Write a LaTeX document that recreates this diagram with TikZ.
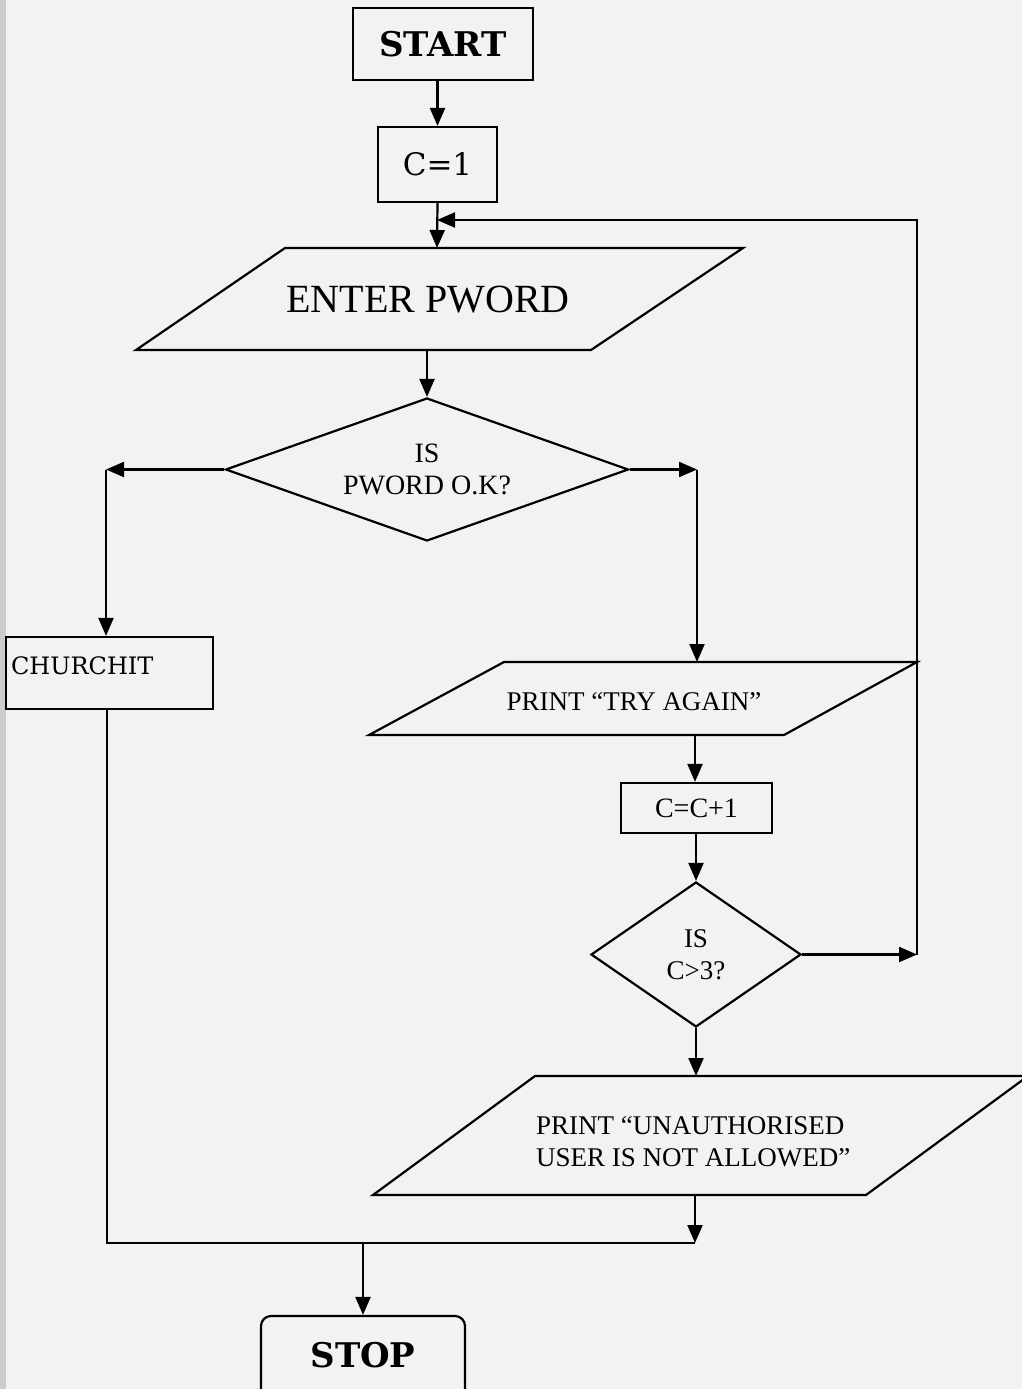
\documentclass[tikz,border=0pt]{standalone}
\usepackage{fontspec}
\setmainfont{Liberation Serif}
\newfontfamily\bk{DejaVu Serif}
\usetikzlibrary{arrows.meta,shapes.geometric}
\begin{document}
\begin{tikzpicture}[x=1pt,y=-1pt,line width=2.2pt,
  arr/.style={-{Triangle[length=18pt,width=15pt]}},
  box/.style={draw,rectangle,inner sep=0pt},
  dec/.style={draw,diamond,inner sep=0pt,align=center},
  txt/.style={inner sep=0pt,align=center}]
\clip (0,0) rectangle (1022,1389);
\useasboundingbox (0,0) rectangle (1022,1389);
\fill[gray!10] (0,0) rectangle (1022,1389);
\fill[gray!40] (0,0) rectangle (6,1389);

% nodes
\node[box,minimum width=180pt,minimum height=72pt,font=\bk\bfseries\fontsize{34}{36}\selectfont] (start) at (443,44) {START};
\node[box,minimum width=119pt,minimum height=75pt,font=\bk\fontsize{31}{34}\selectfont] (c1) at (437.5,164.5) {C=1};

\draw (285,248) -- (743,248) -- (591,350) -- (136,350) -- cycle;
\node[txt,font=\fontsize{40}{42}\selectfont] (ep) at (428,300) {ENTER PWORD};
\coordinate (epin) at (437,248);
\coordinate (epout) at (427,350);

\node[dec,minimum width=403pt,minimum height=143pt,aspect=2.8,font=\fontsize{28}{32}\selectfont] (d1) at (427,469.5) {IS\\PWORD O.K?};
\coordinate (lft) at (106,469.5);
\coordinate (rgt) at (697,469.5);

\node[box,minimum width=207pt,minimum height=72pt] (church) at (109.5,673) {};
\node[txt,anchor=west,font=\bk\fontsize{24}{26}\selectfont] (churcht) at (10,666) {CHURCHIT};

\draw (504,662) -- (917,662) -- (784,735) -- (369,735) -- cycle;
\node[txt,font=\fontsize{27}{30}\selectfont] (try) at (634,702) {PRINT “TRY AGAIN”};
\coordinate (tryin) at (697,662);
\coordinate (tryout) at (695,735);

\node[box,minimum width=151pt,minimum height=50pt,font=\fontsize{28}{30}\selectfont] (cc) at (696.5,808) {C=C+1};

\node[dec,minimum width=210pt,minimum height=145pt,aspect=1.45,font=\fontsize{27}{32}\selectfont] (d2) at (696,954.5) {IS\\C>3?};
\coordinate (lp1) at (917,954.5);
\coordinate (lp2) at (917,220);
\coordinate (lp3) at (437,220);

\draw (535,1076) -- (1028,1076) -- (866,1195) -- (373,1195) -- cycle;
\node[txt,anchor=west,align=left,font=\fontsize{27}{32}\selectfont] (un) at (535,1142) {PRINT “UNAUTHORISED\\USER IS NOT ALLOWED”};
\coordinate (unin) at (696,1076);
\coordinate (unout) at (695,1195);

\coordinate (j1) at (107,1243);
\coordinate (j2) at (695,1243);
\coordinate (j3) at (363,1243);

\node[draw,rectangle,rounded corners=10pt,minimum width=204pt,minimum height=90pt,inner sep=0pt] (stop) at (363,1361) {};
\node[txt,font=\bk\bfseries\fontsize{34}{36}\selectfont] (stopt) at (363,1355) {STOP};

% connectors
\draw[arr] (start.south -| c1.north) -- (c1.north);
\draw[arr] (c1.south) -- (epin);
\draw[arr] (epout) -- (d1.north);
\draw[arr] (d1.west) -- (lft);
\draw[arr] (lft) -- (lft |- church.north);
\draw[arr] (d1.east) -- (rgt);
\draw[arr] (rgt) -- (tryin);
\draw[arr] (tryout) -- (tryout |- cc.north);
\draw[arr] (cc.south -| d2.north) -- (d2.north);
\draw[arr] (d2.east) -- (lp1);
\draw[arr] (lp1) -- (lp2) -- (lp3);
\draw[arr] (d2.south) -- (unin);
\draw[arr] (unout) -- (j2);
\draw (j1 |- church.south) -- (j1) -- (j2);
\draw[arr] (j3) -- (stop.north);
\end{tikzpicture}
\end{document}
